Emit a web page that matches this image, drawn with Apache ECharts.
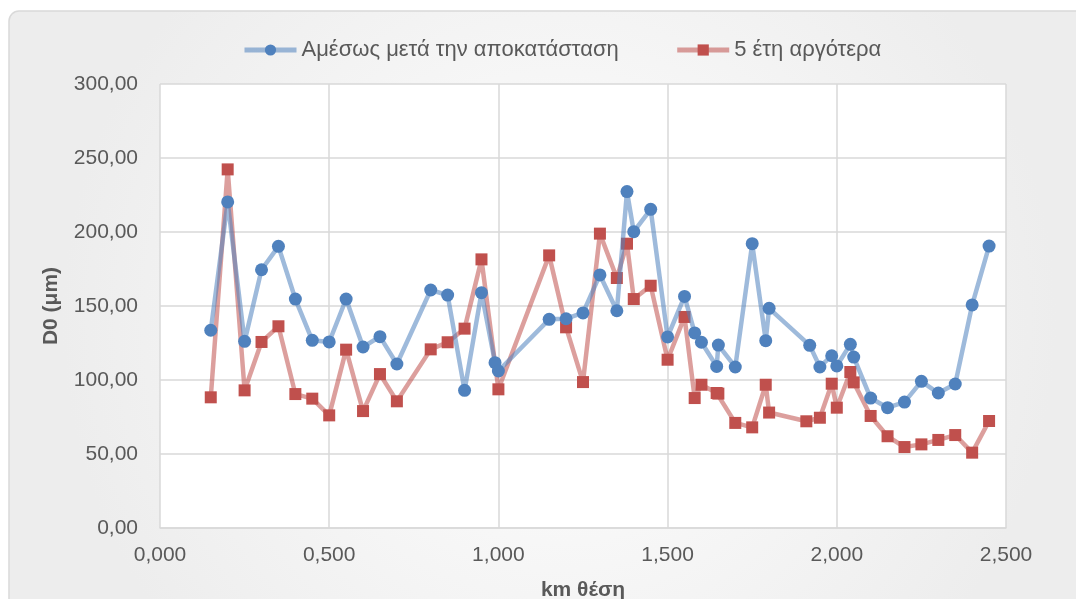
<!DOCTYPE html>
<html>
<head>
<meta charset="utf-8">
<script src="https://cdn.jsdelivr.net/npm/echarts@6/dist/echarts.min.js"></script>
<style>
  html, body { margin: 0; padding: 0; background: #fff; }
  #chart { width: 1076px; height: 599px; }
</style>
</head>
<body>
<div id="chart"></div>
<script>
// km positions and D0 values
var kmBlue = [0.15, 0.2, 0.25, 0.3, 0.35, 0.4, 0.45, 0.5, 0.55, 0.6, 0.65, 0.7, 0.8, 0.85, 0.9, 0.95, 0.99, 1.0,
  1.15, 1.2, 1.25, 1.3, 1.35, 1.38, 1.4, 1.45, 1.5, 1.55, 1.58, 1.6, 1.645, 1.65, 1.7, 1.75, 1.79, 1.8,
  1.92, 1.95, 1.985, 2.0, 2.04, 2.05, 2.1, 2.15, 2.2, 2.25, 2.3, 2.35, 2.4, 2.45];
var d0Blue = [133.6, 220.3, 126.1, 174.5, 190.3, 154.7, 126.8, 125.7, 154.7, 122.3, 129.3, 110.8, 160.8, 157.4, 93, 159, 111.7, 106.1,
  141, 141.4, 145.3, 171, 146.8, 227.3, 200.2, 215.3, 129.1, 156.5, 131.8, 125.5, 109.2, 123.6, 108.8, 192.1, 126.6, 148.4,
  123.4, 108.8, 116.4, 109.5, 124.1, 115.5, 87.8, 81.3, 85.1, 99.1, 91.2, 97.3, 150.7, 190.5];

var kmRed = [0.15, 0.2, 0.25, 0.3, 0.35, 0.4, 0.45, 0.5, 0.55, 0.6, 0.65, 0.7, 0.8, 0.85, 0.9, 0.95, 1.0,
  1.15, 1.2, 1.25, 1.3, 1.35, 1.38, 1.4, 1.45, 1.5, 1.55, 1.58, 1.6, 1.645, 1.65, 1.7, 1.75, 1.79, 1.8,
  1.91, 1.95, 1.985, 2.0, 2.04, 2.05, 2.1, 2.15, 2.2, 2.25, 2.3, 2.35, 2.4, 2.45];
var d0Red = [88.3, 242.3, 93, 125.7, 136.3, 90.5, 87.4, 76.1, 120.5, 79, 104, 85.6, 120.7, 125.5, 134.7, 181.5, 93.7,
  184.2, 135.6, 98.6, 198.9, 168.9, 192.1, 154.7, 163.7, 113.7, 142.6, 87.8, 96.8, 91.2, 90.8, 71, 68, 96.8, 78,
  72.1, 74.5, 97.5, 81.3, 105.4, 98.4, 75.7, 62, 54.7, 56.5, 59.5, 62.8, 50.9, 72.3];

var seriesNames = ["Αμέσως μετά την αποκατάσταση", "5 έτη αργότερα"];

function pairs(xs, ys) {
  var out = [];
  for (var i = 0; i < xs.length; i++) out.push([xs[i], ys[i]]);
  return out;
}

var textColor = "#595959";
var gridColor = "#D9D9D9";
var font = "Liberation Sans";

var chart = echarts.init(document.getElementById("chart"), null, { renderer: "canvas" });

chart.setOption({
  animation: false,
  backgroundColor: "#fff",
  graphic: [
    {
      type: "rect",
      z: -10,
      shape: { x: 9, y: 11, width: 1100, height: 620, r: 10 },
      style: {
        fill: new echarts.graphic.RadialGradient(0.5, 0.5, 0.8, [
          { offset: 0, color: "#ffffff" },
          { offset: 1, color: "#ededed" }
        ]),
        stroke: gridColor,
        lineWidth: 1.5
      }
    }
  ],
  legend: {
    top: 34,
    left: 237,
    itemWidth: 52,
    itemHeight: 14,
    itemGap: 56,
    lineStyle: { width: 5 },
    textStyle: { color: textColor, fontSize: 22, fontFamily: font },
    data: seriesNames
  },
  grid: {
    left: 160,
    right: 70,
    top: 84,
    bottom: 71,
    containLabel: false,
    outerBoundsMode: "none",
    show: true,
    backgroundColor: "#fff",
    borderWidth: 0
  },
  xAxis: {
    type: "value",
    min: 0,
    max: 2.5,
    interval: 0.5,
    name: "km θέση",
    nameLocation: "middle",
    nameGap: 52,
    nameTextStyle: { color: textColor, fontSize: 21, fontWeight: "bold", fontFamily: font },
    axisLine: { show: true, lineStyle: { color: gridColor, width: 1.5 } },
    axisTick: { show: false },
    splitLine: { show: true, lineStyle: { color: gridColor, width: 1.5 } },
    axisLabel: {
      color: textColor,
      fontSize: 21,
      fontFamily: font,
      margin: 17,
      formatter: function (v) { return v.toFixed(3).replace(".", ","); }
    }
  },
  yAxis: {
    type: "value",
    min: 0,
    max: 300,
    interval: 50,
    name: "D0 (μm)",
    nameLocation: "middle",
    nameGap: 98,
    nameRotate: 90,
    nameTextStyle: { color: textColor, fontSize: 21, fontWeight: "bold", fontFamily: font },
    axisLine: { show: false },
    axisTick: { show: false },
    splitLine: { show: true, lineStyle: { color: gridColor, width: 1.5 } },
    axisLabel: {
      color: textColor,
      fontSize: 21,
      fontFamily: font,
      margin: 22,
      formatter: function (v) { return v.toFixed(2).replace(".", ","); }
    }
  },
  series: [
    {
      name: seriesNames[0],
      type: "line",
      data: pairs(kmBlue, d0Blue),
      symbol: "circle",
      symbolSize: 13,
      itemStyle: { color: "#4F81BD" },
      lineStyle: { color: "rgba(79,129,189,0.55)", width: 4.5 },
      z: 3
    },
    {
      name: seriesNames[1],
      type: "line",
      data: pairs(kmRed, d0Red),
      symbol: "rect",
      symbolSize: 12,
      itemStyle: { color: "#C0504D" },
      lineStyle: { color: "rgba(192,80,77,0.55)", width: 4.5 },
      z: 2
    }
  ]
});
</script>
</body>
</html>
